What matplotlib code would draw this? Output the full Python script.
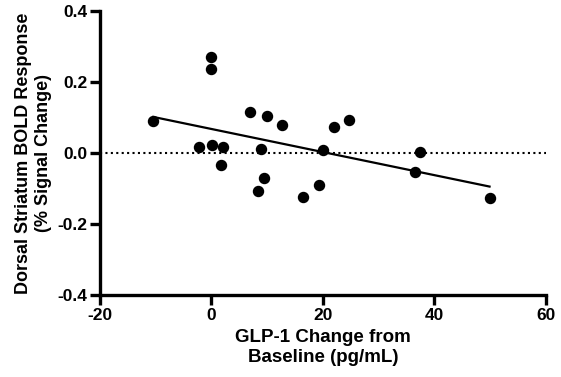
import numpy as np
import matplotlib
matplotlib.use("Agg")
import matplotlib.pyplot as plt

plt.rcParams['font.family'] = ['Liberation Sans', 'DejaVu Sans']
plt.rcParams['font.weight'] = 'bold'
plt.rcParams['axes.unicode_minus'] = False

# GLP-1 change vs dorsal striatum BOLD response
glp1_change = [-10.4, 0.0, 0.0, -2.3, 0.1, 2.0, 1.7, 6.9, 10.0, 12.6, 8.9,
               9.5, 8.3, 16.5, 19.3, 20.0, 22.0, 24.6, 37.5, 36.6, 49.9]
bold_resp = [0.089, 0.270, 0.237, 0.016, 0.022, 0.016, -0.033, 0.116, 0.105,
             0.079, 0.012, -0.070, -0.108, -0.124, -0.091, 0.008, 0.072,
             0.093, 0.002, -0.053, -0.128]

x_ticks = [-20, 0, 20, 40, 60]
y_ticks = [-0.4, -0.2, 0.0, 0.2, 0.4]

fig = plt.figure(figsize=(5.61, 3.77), dpi=100)
ax = fig.add_axes([0.178, 0.2175, 0.795, 0.7535])

ax.axhline(0, color='black', ls=(0, (1, 1.6)), lw=1.5, zorder=1)

# linear fit
slope, intercept = np.polyfit(glp1_change, bold_resp, 1)
xs = np.array([min(glp1_change), max(glp1_change)])
ax.plot(xs, slope * xs + intercept, color='black', lw=1.6, zorder=2)

ax.scatter(glp1_change, bold_resp, s=52, color='black', zorder=3)

ax.set_xlim(-20, 60)
ax.set_ylim(-0.4, 0.4)
ax.set_xticks(x_ticks)
ax.set_yticks(y_ticks)
ax.set_yticklabels(['%.1f' % v for v in y_ticks])

for s in ['top', 'right']:
    ax.spines[s].set_visible(False)
for s in ['left', 'bottom']:
    ax.spines[s].set_linewidth(2.4)
ax.tick_params(width=2.4, length=7, labelsize=12.5, pad=2)

ax.set_xlabel('GLP-1 Change from\nBaseline (pg/mL)', fontsize=13.5, fontweight='bold', labelpad=5)
ax.set_ylabel('Dorsal Striatum BOLD Response\n(% Signal Change)', fontsize=13, fontweight='bold', labelpad=4)

fig.savefig('out.png', dpi=100)
